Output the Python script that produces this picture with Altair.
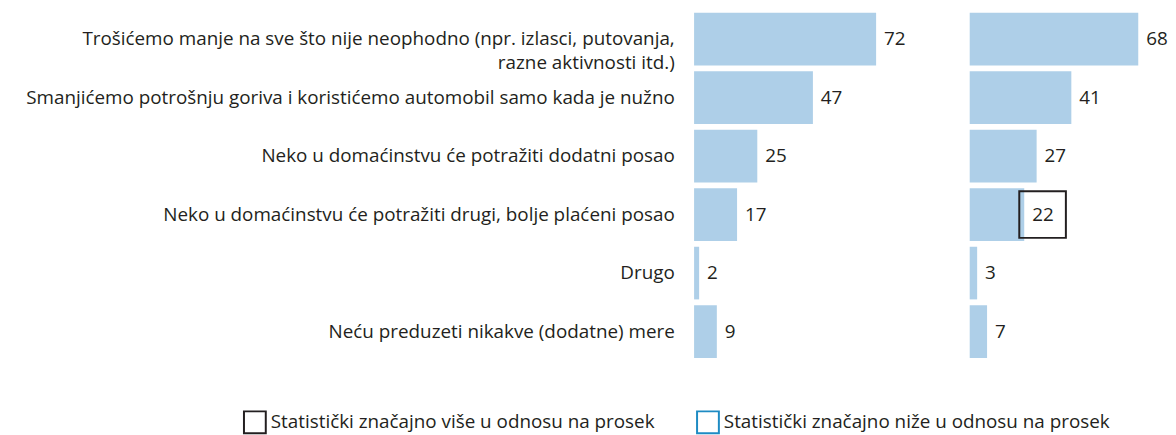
import altair as alt
import pandas as pd

FONT = "Open Sans"
TEXT = "#231F20"
FS = 19

categories = [
    "Trošićemo manje na sve što nije neophodno (npr. izlasci, putovanja,|razne aktivnosti itd.)",
    "Smanjićemo potrošnju goriva i koristićemo automobil samo kada je nužno",
    "Neko u domaćinstvu će potražiti dodatni posao",
    "Neko u domaćinstvu će potražiti drugi, bolje plaćeni posao",
    "Drugo",
    "Neću preduzeti nikakve (dodatne) mere",
]
values_a = [72, 47, 25, 17, 2, 9]
values_b = [68, 41, 27, 22, 3, 7]
legend_labels = [
    "Statistički značajno više u odnosu na prosek",
    "Statistički značajno niže u odnosu na prosek",
]
sig_a = ["", "", "", "", "", ""]
sig_b = ["", "", "", legend_labels[0], "", ""]


def panel(values, sig, width, xmax, show_labels):
    df = pd.DataFrame({"cat": categories, "val": values, "sig": sig})
    if show_labels:
        yaxis = alt.Axis(domain=False, ticks=False, grid=False, labelPadding=20,
                         labelFontSize=FS, labelFont=FONT, labelColor=TEXT,
                         labelLimit=2000, minExtent=692, maxExtent=692,
                         labelExpr="split(datum.label, '|')", labelLineHeight=24)
    else:
        yaxis = None
    y = alt.Y("cat:N", sort=categories, title=None,
              scale=alt.Scale(paddingInner=0.1, paddingOuter=0.05), axis=yaxis)
    x = alt.X("val:Q", scale=alt.Scale(domain=[0, xmax]), axis=None, title=None)
    base = alt.Chart(df).encode(y=y, x=x)
    bars = base.mark_bar(color="#AECFE8")
    text = base.mark_text(align="left", baseline="middle", dx=8, fontSize=FS,
                          font=FONT, color=TEXT).encode(text="val:Q")
    boxes = base.transform_filter("datum.sig != ''").mark_point(
        shape="square", size=2209, filled=False, strokeWidth=2, xOffset=18.5, opacity=1
    ).encode(stroke=alt.Stroke(
        "sig:N",
        scale=alt.Scale(domain=legend_labels, range=[TEXT, "#1E8BC3"]),
        legend=alt.Legend(orient="none", legendX=-455, legendY=404, direction="horizontal",
                          title=None, symbolType="square", symbolSize=484,
                          symbolStrokeWidth=2, symbolFillColor="transparent",
                          labelFontSize=FS, labelFont=FONT, labelColor=TEXT,
                          labelOffset=4, columnPadding=38, labelLimit=1000),
    ))
    return alt.layer(bars, text, boxes).properties(width=width, height=354)


p1 = panel(values_a, sig_a, 255, 100, True)
p2 = panel(values_b, sig_b, 200, 80, False)

chart = alt.hconcat(p1, p2, spacing=23).properties(padding=0).configure_view(stroke=None)

chart.save("out.html", embed_options={"renderer": "svg", "actions": False})
